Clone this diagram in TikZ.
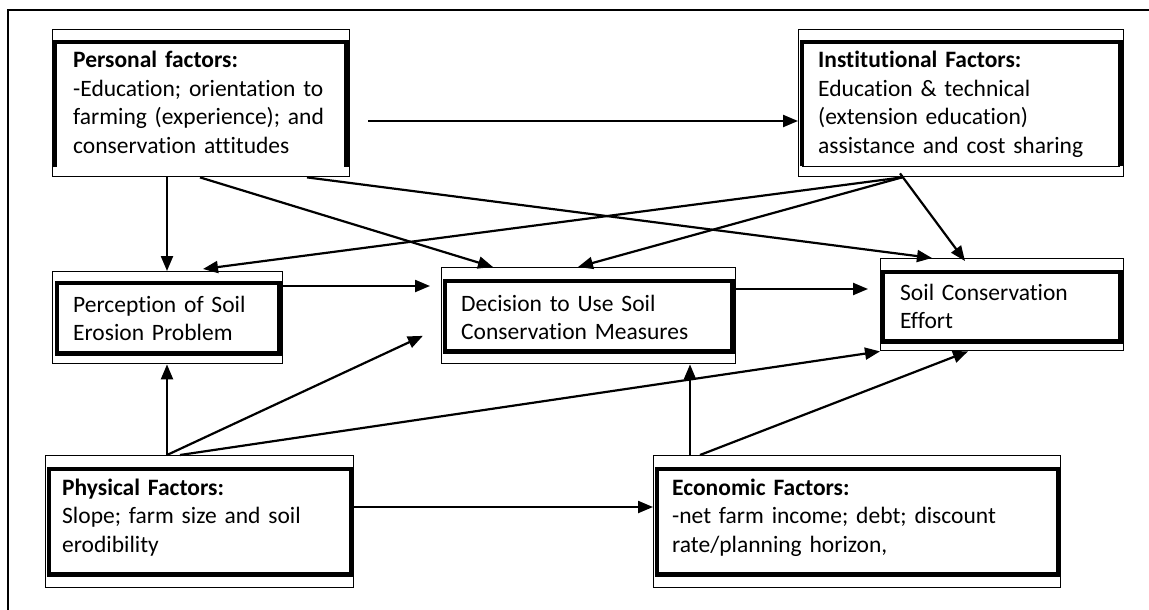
\documentclass[tikz,border=0pt]{standalone}
\usepackage{fontspec}
\setmainfont{Carlito}[Ligatures=CommonOff]
\usetikzlibrary{calc,arrows.meta}

\tikzset{
  outerbox/.style={draw, line width=1.4pt, fill=white, rectangle, inner sep=0pt, anchor=north west},
  innerbox/.style={line width=4.2pt},
  txt/.style={anchor=base west, inner sep=0pt, align=left,
              font=\fontsize{23.5}{28.5}\selectfont},
  link/.style={line width=2.2pt, -{Triangle[length=15pt,width=12pt]}},
  frame/.style={line width=1.6pt}
}

\begin{document}
\begin{tikzpicture}[x=1pt,y=-1pt]
\useasboundingbox (0,0) rectangle (1149,610);

% page frame (left and top edges)
\draw[frame] (8,610) -- (8,10) -- (1149,10);

% outer boxes
\node[outerbox, minimum width=297pt, minimum height=147pt] (pers) at (52,29) {};
\node[outerbox, minimum width=325pt, minimum height=147pt] (inst) at (798,29) {};
\node[outerbox, minimum width=230pt, minimum height=92pt]  (perc) at (52,271) {};
\node[outerbox, minimum width=294pt, minimum height=96pt]  (dec)  at (441,267) {};
\node[outerbox, minimum width=243pt, minimum height=92pt]  (eff)  at (880,258) {};
\node[outerbox, minimum width=308pt, minimum height=132pt] (phys) at (45,455) {};
\node[outerbox, minimum width=407pt, minimum height=132pt] (econ) at (653,455) {};

% inner heavy frames
\draw[innerbox] ($(pers.south west)+(3,-10)$) -- ($(pers.north west)+(3,13)$)
  -- ($(pers.north east)+(-4,13)$) -- ($(pers.south east)+(-4,-10)$);
\draw[innerbox] ($(inst.south west)+(4,-11)$) -- ($(inst.north west)+(4,13)$)
  -- ($(inst.north east)+(-4,13)$) -- ($(inst.south east)+(-4,-11)$);
\draw[line width=1.1pt] ($(inst.south west)+(4,-11)$) -- ($(inst.south east)+(-4,-11)$);
\draw[innerbox] ($(perc.north west)+(5,12)$) rectangle ($(perc.south east)+(-4,-11)$);
\draw[innerbox] ($(dec.north west)+(4,14)$) rectangle ($(dec.south east)+(-4,-13)$);
\draw[innerbox] ($(eff.north west)+(3,14)$) rectangle ($(eff.south east)+(-4,-10)$);
\draw[innerbox] ($(phys.north west)+(4,14)$) rectangle ($(phys.south east)+(-3,-14)$);
\draw[innerbox] ($(econ.north west)+(4,14)$) rectangle ($(econ.south east)+(-3,-14)$);

% texts
\node[txt, text width=268pt] (perst) at ($(pers.north west)+(21,39)$)
  {\textbf{Personal factors:}\\-Education; orientation to\\farming (experience); and\\conservation attitudes};
\node[txt, text width=295pt] (instt) at ($(inst.north west)+(20,39)$)
  {\textbf{Institutional Factors:}\\Education \& technical\\(extension education)\\assistance and cost sharing};
\node[txt, text width=200pt] (perct) at ($(perc.north west)+(21,41)$)
  {Perception of Soil\\Erosion Problem};
\node[txt, text width=265pt] (dect) at ($(dec.north west)+(20,44)$)
  {Decision to Use Soil\\Conservation Measures};
\node[txt, text width=215pt] (efft) at ($(eff.north west)+(20,42)$)
  {Soil Conservation\\Effort};
\node[txt, text width=285pt] (physt) at ($(phys.north west)+(17,40)$)
  {\textbf{Physical Factors:}\\Slope; farm size and soil\\erodibility};
\node[txt, text width=370pt] (econt) at ($(econ.north west)+(19,40)$)
  {\textbf{Economic Factors:}\\-net farm income; debt; discount\\rate/planning horizon,};

% connectors
\coordinate (pstart) at ($(pers.north east)+(18,92)$);
\draw[link] (pstart) -- (pstart -| inst.west);

\draw[link] ($(pers.south west)+(115,0)$) -- ($(perc.north west)+(115,0)$);
\draw[link] ($(pers.south west)+(148,0)$) -- ($(dec.north west)+(52,0)$);
\draw[link] ($(pers.south west)+(255,0)$) -- ($(eff.north west)+(52,0)$);

\draw[link] ($(inst.south west)+(104,0)$) -- ($(perc.north west)+(151,-2)$);
\draw[link] ($(inst.south west)+(104,0)$) -- ($(dec.north west)+(137,0)$);
\draw[link] ($(inst.south west)+(102,-4)$) -- ($(eff.north west)+(85,3)$);

\draw[link, shorten >=11pt] ($(perc.north east)+(0,15)$) -- ($(dec.north west)+(0,19)$);
\draw[link, shorten >=12pt] ($(dec.north east)+(0,22)$) -- ($(eff.north west)+(0,31)$);

\draw[link] ($(phys.north west)+(122,0)$) -- ($(perc.south west)+(115,0)$);
\draw[link, shorten >=20pt] ($(phys.north west)+(122,0)$) -- ($(dec.south west)+(0,-37)$);
\draw[link] ($(phys.north west)+(135,0)$) -- (eff.south west);

\draw[link] ($(phys.north east)+(0,52)$) -- ($(econ.north west)+(0,52)$);

\draw[link] ($(econ.north west)+(37,0)$) -- ($(dec.south west)+(249,0)$);
\draw[link] ($(econ.north west)+(47,0)$) -- ($(eff.south west)+(88,0)$);
\end{tikzpicture}
\end{document}
